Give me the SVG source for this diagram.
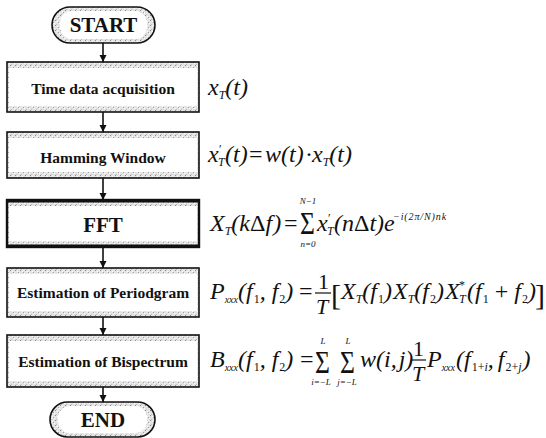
<svg xmlns="http://www.w3.org/2000/svg" width="546" height="438" viewBox="0 0 546 438">
<defs>
<pattern id="stip" width="5" height="5" patternUnits="userSpaceOnUse">
<rect width="5" height="5" fill="#e4e4e4"/>
<rect x="0" y="0" width="1" height="1" fill="#8a8a8a"/>
<rect x="3" y="2" width="1" height="1" fill="#a0a0a0"/>
<rect x="1" y="4" width="1" height="1" fill="#bdbdbd"/>
<rect x="2" y="1" width="1" height="1" fill="#fff"/>
<rect x="4" y="3" width="1" height="1" fill="#fff"/>
</pattern>
<marker id="ah" markerWidth="8" markerHeight="8" refX="7" refY="4" orient="auto" markerUnits="userSpaceOnUse">
<path d="M0,0.5 L7,4 L0,7.5 Z" fill="#111"/>
</marker>
</defs>
<style>
.bx{fill:url(#stip);stroke:#111;stroke-width:1.6}
.in{fill:#fff}
.lb{font-family:"Liberation Serif",serif;font-weight:bold;font-size:15.5px;fill:#111;text-anchor:middle}
.big{font-size:21px}
.m{font-family:"Liberation Serif",serif;font-style:italic;font-size:24px;fill:#111}
.u{font-style:normal}
.s{font-size:12px}
.ss{font-size:10px}
.lim{font-family:"Liberation Serif",serif;font-style:italic;font-size:9px;fill:#111;text-anchor:middle}
.sig{font-family:"Liberation Serif",serif;font-size:32px;fill:#111}
.cn{stroke:#111;stroke-width:1.6;fill:none}
.fl{stroke:#111;stroke-width:1.2}
</style>
<g id="connectors">
<line class="cn" x1="103" y1="43" x2="103" y2="62" marker-end="url(#ah)"/>
<line class="cn" x1="103" y1="112" x2="103" y2="132" marker-end="url(#ah)"/>
<line class="cn" x1="103" y1="178" x2="103" y2="200" marker-end="url(#ah)"/>
<line class="cn" x1="103" y1="247" x2="103" y2="268" marker-end="url(#ah)"/>
<line class="cn" x1="103" y1="317" x2="103" y2="335" marker-end="url(#ah)"/>
<line class="cn" x1="103" y1="387" x2="103" y2="402" marker-end="url(#ah)"/>
</g>
<g id="start">
<rect class="bx" x="52" y="7" width="103" height="36" rx="18"/>
<rect class="in" x="60" y="11" width="87" height="28" rx="12"/>
<text class="lb big" x="103.5" y="32">START</text>
</g>
<g id="acq">
<rect class="bx" x="7" y="62" width="192" height="50"/>
<rect class="in" x="9" y="68" width="188" height="38"/>
<text class="lb" x="103" y="94">Time data acquisition</text>
</g>
<g id="hamming">
<rect class="bx" x="7" y="132" width="192" height="46"/>
<rect class="in" x="9" y="138" width="188" height="34"/>
<text class="lb" x="103" y="163">Hamming Window</text>
</g>
<g id="fft">
<rect class="bx" x="7" y="200" width="192" height="47" style="stroke-width:2.4"/>
<rect class="in" x="9" y="206" width="188" height="35"/>
<line x1="6" y1="201" x2="200" y2="201" stroke="#111" stroke-width="3"/>
<line x1="6" y1="246" x2="200" y2="246" stroke="#111" stroke-width="3"/>
<text class="lb big" x="103" y="232">FFT</text>
</g>
<g id="periodogram">
<rect class="bx" x="7" y="268" width="192" height="49"/>
<rect class="in" x="9" y="274" width="188" height="37"/>
<text class="lb" x="103" y="298">Estimation of Periodgram</text>
</g>
<g id="bispectrum">
<rect class="bx" x="7" y="335" width="192" height="52"/>
<rect class="in" x="9" y="341" width="188" height="40"/>
<text class="lb" x="103" y="367">Estimation of Bispectrum</text>
</g>
<g id="end">
<rect class="bx" x="50" y="402" width="105" height="35" rx="17.5"/>
<rect class="in" x="58" y="406" width="89" height="27" rx="12"/>
<text class="lb big" x="103" y="427">END</text>
</g>
<g id="formulas">
<!-- x_T(t) -->
<text class="m" x="208" y="95">x<tspan class="s" dy="4">T</tspan><tspan dy="-4">(t)</tspan></text>

<!-- x'_T(t) = w(t) . x_T(t) -->
<text class="m" x="208" y="162">x</text>
<text class="m u s" x="219" y="153">′</text>
<text class="m s" x="218" y="166">T</text>
<text class="m" x="225" y="162">(t)</text>
<text class="m u" x="249" y="162">=</text>
<text class="m" x="265" y="162">w(t)</text>
<text class="m u" x="305" y="162">·</text>
<text class="m" x="312" y="162">x<tspan class="s" dy="4">T</tspan><tspan dy="-4">(t)</tspan></text>

<!-- FFT -->
<text class="m" x="210" y="231">X<tspan class="s" dy="4">T</tspan><tspan dy="-4">(k</tspan><tspan class="u">Δ</tspan>f<tspan dx="1">)</tspan></text>
<text class="m u" x="284" y="231">=</text>
<text class="sig" transform="translate(300,234) scale(0.8,1)">Σ</text>
<text class="lim" x="308" y="204">N−1</text>
<text class="lim" x="308" y="247">n=0</text>
<text class="m" x="317" y="231">x</text>
<text class="m u s" x="328" y="222">′</text>
<text class="m s" x="327" y="235">T</text>
<text class="m" x="334" y="231">(n<tspan class="u">Δ</tspan>t)e</text>
<text class="m ss" x="393" y="220" style="letter-spacing:0.9px">−i(2π/N)nk</text>

<!-- P -->
<text class="m" x="210" y="299">P<tspan class="ss" dy="4">xxx</tspan><tspan dy="-4">(f</tspan><tspan class="u s" dx="1" dy="4">1</tspan><tspan dy="-4">, f</tspan><tspan class="u s" dx="1" dy="4">2</tspan><tspan dy="-4">)</tspan></text>
<text class="m u" x="299" y="299">=</text>
<text class="m u" x="318" y="289" style="font-size:22px">1</text>
<line class="fl" x1="315" y1="293" x2="331" y2="293"/>
<text class="m" x="316" y="314" style="font-size:22px">T</text>
<text class="m u" x="331" y="305" style="font-size:30px">[</text>
<text class="m" x="341" y="299">X<tspan class="s" dy="4">T</tspan><tspan dy="-4">(f</tspan><tspan class="u s" dx="1" dy="4">1</tspan><tspan dy="-4">)</tspan></text>
<text class="m" x="393" y="299">X<tspan class="s" dy="4">T</tspan><tspan dy="-4">(f</tspan><tspan class="u s" dx="1" dy="4">2</tspan><tspan dy="-4">)</tspan></text>
<text class="m" x="445" y="299">X</text>
<text class="m u s" x="459" y="289">*</text>
<text class="m s" x="459" y="303">T</text>
<text class="m" x="467" y="299">(f<tspan class="u s" dx="1" dy="4">1</tspan><tspan class="u" dy="-4"> + </tspan>f<tspan class="u s" dx="1" dy="4">2</tspan><tspan dy="-4">)</tspan></text>
<text class="m u" x="535" y="305" style="font-size:30px">]</text>

<!-- B -->
<text class="m" x="210" y="367">B<tspan class="ss" dy="4">xxx</tspan><tspan dy="-4">(f</tspan><tspan class="u s" dx="1" dy="4">1</tspan><tspan dy="-4">, f</tspan><tspan class="u s" dx="1" dy="4">2</tspan><tspan dy="-4">)</tspan></text>
<text class="m u" x="300" y="367">=</text>
<text class="sig" transform="translate(315,373) scale(0.8,1)">Σ</text>
<text class="sig" transform="translate(340,373) scale(0.8,1)">Σ</text>
<text class="lim" x="323" y="344">L</text>
<text class="lim" x="348" y="344">L</text>
<text class="lim" x="321" y="385">i=−L</text>
<text class="lim" x="347" y="385">j=−L</text>
<text class="m" x="360" y="367">w(i,<tspan dx="2">j)</tspan></text>
<text class="m u" x="413" y="356" style="font-size:22px">1</text>
<line class="fl" x1="411" y1="360" x2="426" y2="360"/>
<text class="m" x="412" y="381" style="font-size:22px">T</text>
<text class="m" x="427" y="367">P<tspan class="ss" dy="4">xxx</tspan><tspan dx="1" dy="-4">(f</tspan><tspan class="u s" dx="1" dy="4">1+</tspan><tspan class="s">i</tspan><tspan dy="-4">,</tspan><tspan dx="4">f</tspan><tspan class="u s" dx="1" dy="4">2+</tspan><tspan class="s">j</tspan><tspan dx="1" dy="-4">)</tspan></text>
</g>
</svg>
